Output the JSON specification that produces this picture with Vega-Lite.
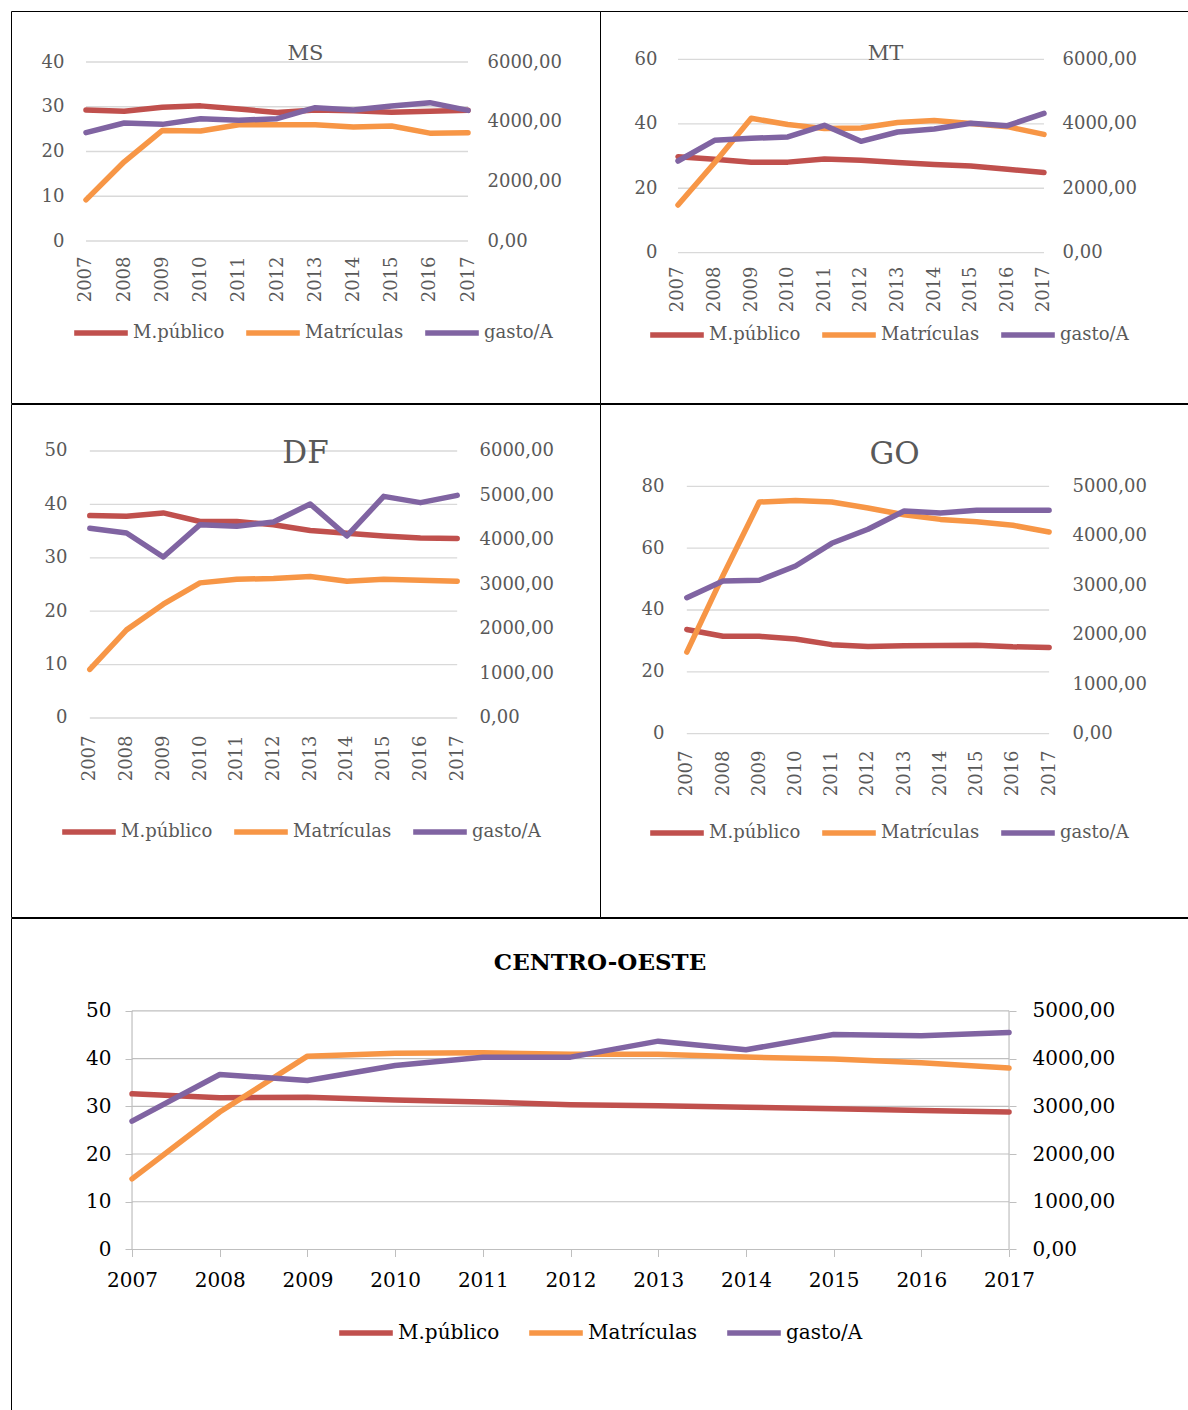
{
"$schema": "https://vega.github.io/schema/vega-lite/v6.json",
"padding": {"left": 10, "top": 10, "right": 0, "bottom": 0},
"background": "white",
"datasets": {
"d": [
{"panel":"MS","serie":"M.público","ano":2007,"valor":29.3},{"panel":"MS","serie":"M.público","ano":2008,"valor":29.0},{"panel":"MS","serie":"M.público","ano":2009,"valor":29.9},{"panel":"MS","serie":"M.público","ano":2010,"valor":30.2},{"panel":"MS","serie":"M.público","ano":2011,"valor":29.5},{"panel":"MS","serie":"M.público","ano":2012,"valor":28.7},{"panel":"MS","serie":"M.público","ano":2013,"valor":29.3},{"panel":"MS","serie":"M.público","ano":2014,"valor":29.1},{"panel":"MS","serie":"M.público","ano":2015,"valor":28.8},{"panel":"MS","serie":"M.público","ano":2016,"valor":29.0},{"panel":"MS","serie":"M.público","ano":2017,"valor":29.2},
{"panel":"MS","serie":"Matrículas","ano":2007,"valor":9.2},{"panel":"MS","serie":"Matrículas","ano":2008,"valor":17.7},{"panel":"MS","serie":"Matrículas","ano":2009,"valor":24.7},{"panel":"MS","serie":"Matrículas","ano":2010,"valor":24.6},{"panel":"MS","serie":"Matrículas","ano":2011,"valor":26.0},{"panel":"MS","serie":"Matrículas","ano":2012,"valor":26.0},{"panel":"MS","serie":"Matrículas","ano":2013,"valor":26.0},{"panel":"MS","serie":"Matrículas","ano":2014,"valor":25.5},{"panel":"MS","serie":"Matrículas","ano":2015,"valor":25.7},{"panel":"MS","serie":"Matrículas","ano":2016,"valor":24.1},{"panel":"MS","serie":"Matrículas","ano":2017,"valor":24.2},
{"panel":"MS","serie":"gasto/A","ano":2007,"valor":3631},{"panel":"MS","serie":"gasto/A","ano":2008,"valor":3955},{"panel":"MS","serie":"gasto/A","ano":2009,"valor":3910},{"panel":"MS","serie":"gasto/A","ano":2010,"valor":4100},{"panel":"MS","serie":"gasto/A","ano":2011,"valor":4044},{"panel":"MS","serie":"gasto/A","ano":2012,"valor":4100},{"panel":"MS","serie":"gasto/A","ano":2013,"valor":4469},{"panel":"MS","serie":"gasto/A","ano":2014,"valor":4391},{"panel":"MS","serie":"gasto/A","ano":2015,"valor":4525},{"panel":"MS","serie":"gasto/A","ano":2016,"valor":4637},{"panel":"MS","serie":"gasto/A","ano":2017,"valor":4380},
{"panel":"MT","serie":"M.público","ano":2007,"valor":29.8},{"panel":"MT","serie":"M.público","ano":2008,"valor":29.0},{"panel":"MT","serie":"M.público","ano":2009,"valor":28.1},{"panel":"MT","serie":"M.público","ano":2010,"valor":28.1},{"panel":"MT","serie":"M.público","ano":2011,"valor":29.1},{"panel":"MT","serie":"M.público","ano":2012,"valor":28.7},{"panel":"MT","serie":"M.público","ano":2013,"valor":28.0},{"panel":"MT","serie":"M.público","ano":2014,"valor":27.4},{"panel":"MT","serie":"M.público","ano":2015,"valor":26.9},{"panel":"MT","serie":"M.público","ano":2016,"valor":25.9},{"panel":"MT","serie":"M.público","ano":2017,"valor":24.9},
{"panel":"MT","serie":"Matrículas","ano":2007,"valor":14.8},{"panel":"MT","serie":"Matrículas","ano":2008,"valor":27.9},{"panel":"MT","serie":"Matrículas","ano":2009,"valor":41.7},{"panel":"MT","serie":"Matrículas","ano":2010,"valor":39.8},{"panel":"MT","serie":"Matrículas","ano":2011,"valor":38.5},{"panel":"MT","serie":"Matrículas","ano":2012,"valor":38.7},{"panel":"MT","serie":"Matrículas","ano":2013,"valor":40.4},{"panel":"MT","serie":"Matrículas","ano":2014,"valor":41.0},{"panel":"MT","serie":"Matrículas","ano":2015,"valor":40.1},{"panel":"MT","serie":"Matrículas","ano":2016,"valor":39.1},{"panel":"MT","serie":"Matrículas","ano":2017,"valor":36.7},
{"panel":"MT","serie":"gasto/A","ano":2007,"valor":2845},{"panel":"MT","serie":"gasto/A","ano":2008,"valor":3486},{"panel":"MT","serie":"gasto/A","ano":2009,"valor":3548},{"panel":"MT","serie":"gasto/A","ano":2010,"valor":3590},{"panel":"MT","serie":"gasto/A","ano":2011,"valor":3952},{"panel":"MT","serie":"gasto/A","ano":2012,"valor":3455},{"panel":"MT","serie":"gasto/A","ano":2013,"valor":3745},{"panel":"MT","serie":"gasto/A","ano":2014,"valor":3838},{"panel":"MT","serie":"gasto/A","ano":2015,"valor":4014},{"panel":"MT","serie":"gasto/A","ano":2016,"valor":3941},{"panel":"MT","serie":"gasto/A","ano":2017,"valor":4324},
{"panel":"DF","serie":"M.público","ano":2007,"valor":37.9},{"panel":"DF","serie":"M.público","ano":2008,"valor":37.8},{"panel":"DF","serie":"M.público","ano":2009,"valor":38.4},{"panel":"DF","serie":"M.público","ano":2010,"valor":36.8},{"panel":"DF","serie":"M.público","ano":2011,"valor":36.8},{"panel":"DF","serie":"M.público","ano":2012,"valor":36.2},{"panel":"DF","serie":"M.público","ano":2013,"valor":35.1},{"panel":"DF","serie":"M.público","ano":2014,"valor":34.6},{"panel":"DF","serie":"M.público","ano":2015,"valor":34.1},{"panel":"DF","serie":"M.público","ano":2016,"valor":33.7},{"panel":"DF","serie":"M.público","ano":2017,"valor":33.6},
{"panel":"DF","serie":"Matrículas","ano":2007,"valor":9.1},{"panel":"DF","serie":"Matrículas","ano":2008,"valor":16.5},{"panel":"DF","serie":"Matrículas","ano":2009,"valor":21.3},{"panel":"DF","serie":"Matrículas","ano":2010,"valor":25.3},{"panel":"DF","serie":"Matrículas","ano":2011,"valor":26.0},{"panel":"DF","serie":"Matrículas","ano":2012,"valor":26.1},{"panel":"DF","serie":"Matrículas","ano":2013,"valor":26.5},{"panel":"DF","serie":"Matrículas","ano":2014,"valor":25.6},{"panel":"DF","serie":"Matrículas","ano":2015,"valor":26.0},{"panel":"DF","serie":"Matrículas","ano":2016,"valor":25.8},{"panel":"DF","serie":"Matrículas","ano":2017,"valor":25.6},
{"panel":"DF","serie":"gasto/A","ano":2007,"valor":4262},{"panel":"DF","serie":"gasto/A","ano":2008,"valor":4157},{"panel":"DF","serie":"gasto/A","ano":2009,"valor":3618},{"panel":"DF","serie":"gasto/A","ano":2010,"valor":4344},{"panel":"DF","serie":"gasto/A","ano":2011,"valor":4307},{"panel":"DF","serie":"gasto/A","ano":2012,"valor":4404},{"panel":"DF","serie":"gasto/A","ano":2013,"valor":4809},{"panel":"DF","serie":"gasto/A","ano":2014,"valor":4090},{"panel":"DF","serie":"gasto/A","ano":2015,"valor":4981},{"panel":"DF","serie":"gasto/A","ano":2016,"valor":4839},{"panel":"DF","serie":"gasto/A","ano":2017,"valor":5003},
{"panel":"GO","serie":"M.público","ano":2007,"valor":33.7},{"panel":"GO","serie":"M.público","ano":2008,"valor":31.5},{"panel":"GO","serie":"M.público","ano":2009,"valor":31.5},{"panel":"GO","serie":"M.público","ano":2010,"valor":30.6},{"panel":"GO","serie":"M.público","ano":2011,"valor":28.8},{"panel":"GO","serie":"M.público","ano":2012,"valor":28.2},{"panel":"GO","serie":"M.público","ano":2013,"valor":28.4},{"panel":"GO","serie":"M.público","ano":2014,"valor":28.5},{"panel":"GO","serie":"M.público","ano":2015,"valor":28.6},{"panel":"GO","serie":"M.público","ano":2016,"valor":28.1},{"panel":"GO","serie":"M.público","ano":2017,"valor":27.9},
{"panel":"GO","serie":"Matrículas","ano":2007,"valor":26.4},{"panel":"GO","serie":"Matrículas","ano":2008,"valor":51.2},{"panel":"GO","serie":"Matrículas","ano":2009,"valor":74.9},{"panel":"GO","serie":"Matrículas","ano":2010,"valor":75.4},{"panel":"GO","serie":"Matrículas","ano":2011,"valor":74.9},{"panel":"GO","serie":"Matrículas","ano":2012,"valor":73.0},{"panel":"GO","serie":"Matrículas","ano":2013,"valor":70.8},{"panel":"GO","serie":"Matrículas","ano":2014,"valor":69.3},{"panel":"GO","serie":"Matrículas","ano":2015,"valor":68.5},{"panel":"GO","serie":"Matrículas","ano":2016,"valor":67.4},{"panel":"GO","serie":"Matrículas","ano":2017,"valor":65.2},
{"panel":"GO","serie":"gasto/A","ano":2007,"valor":2750},{"panel":"GO","serie":"gasto/A","ano":2008,"valor":3086},{"panel":"GO","serie":"gasto/A","ano":2009,"valor":3100},{"panel":"GO","serie":"gasto/A","ano":2010,"valor":3390},{"panel":"GO","serie":"gasto/A","ano":2011,"valor":3848},{"panel":"GO","serie":"gasto/A","ano":2012,"valor":4131},{"panel":"GO","serie":"gasto/A","ano":2013,"valor":4502},{"panel":"GO","serie":"gasto/A","ano":2014,"valor":4461},{"panel":"GO","serie":"gasto/A","ano":2015,"valor":4515},{"panel":"GO","serie":"gasto/A","ano":2016,"valor":4515},{"panel":"GO","serie":"gasto/A","ano":2017,"valor":4515},
{"panel":"CO","serie":"M.público","ano":2007,"valor":32.6},{"panel":"CO","serie":"M.público","ano":2008,"valor":31.8},{"panel":"CO","serie":"M.público","ano":2009,"valor":31.9},{"panel":"CO","serie":"M.público","ano":2010,"valor":31.3},{"panel":"CO","serie":"M.público","ano":2011,"valor":30.9},{"panel":"CO","serie":"M.público","ano":2012,"valor":30.3},{"panel":"CO","serie":"M.público","ano":2013,"valor":30.1},{"panel":"CO","serie":"M.público","ano":2014,"valor":29.8},{"panel":"CO","serie":"M.público","ano":2015,"valor":29.5},{"panel":"CO","serie":"M.público","ano":2016,"valor":29.1},{"panel":"CO","serie":"M.público","ano":2017,"valor":28.8},
{"panel":"CO","serie":"Matrículas","ano":2007,"valor":14.8},{"panel":"CO","serie":"Matrículas","ano":2008,"valor":28.8},{"panel":"CO","serie":"Matrículas","ano":2009,"valor":40.5},{"panel":"CO","serie":"Matrículas","ano":2010,"valor":41.1},{"panel":"CO","serie":"Matrículas","ano":2011,"valor":41.2},{"panel":"CO","serie":"Matrículas","ano":2012,"valor":40.9},{"panel":"CO","serie":"Matrículas","ano":2013,"valor":40.9},{"panel":"CO","serie":"Matrículas","ano":2014,"valor":40.3},{"panel":"CO","serie":"Matrículas","ano":2015,"valor":39.9},{"panel":"CO","serie":"Matrículas","ano":2016,"valor":39.1},{"panel":"CO","serie":"Matrículas","ano":2017,"valor":38.0},
{"panel":"CO","serie":"gasto/A","ano":2007,"valor":2688},{"panel":"CO","serie":"gasto/A","ano":2008,"valor":3666},{"panel":"CO","serie":"gasto/A","ano":2009,"valor":3540},{"panel":"CO","serie":"gasto/A","ano":2010,"valor":3855},{"panel":"CO","serie":"gasto/A","ano":2011,"valor":4029},{"panel":"CO","serie":"gasto/A","ano":2012,"valor":4029},{"panel":"CO","serie":"gasto/A","ano":2013,"valor":4364},{"panel":"CO","serie":"gasto/A","ano":2014,"valor":4183},{"panel":"CO","serie":"gasto/A","ano":2015,"valor":4504},{"panel":"CO","serie":"gasto/A","ano":2016,"valor":4476},{"panel":"CO","serie":"gasto/A","ano":2017,"valor":4546}
],
"grid": [
{"panel":"MS","valor":0},{"panel":"MS","valor":10},{"panel":"MS","valor":20},{"panel":"MS","valor":30},{"panel":"MS","valor":40},
{"panel":"MT","valor":0},{"panel":"MT","valor":20},{"panel":"MT","valor":40},{"panel":"MT","valor":60},
{"panel":"DF","valor":0},{"panel":"DF","valor":10},{"panel":"DF","valor":20},{"panel":"DF","valor":30},{"panel":"DF","valor":40},{"panel":"DF","valor":50},
{"panel":"GO","valor":0},{"panel":"GO","valor":20},{"panel":"GO","valor":40},{"panel":"GO","valor":60},{"panel":"GO","valor":80},
{"panel":"CO","valor":0},{"panel":"CO","valor":10},{"panel":"CO","valor":20},{"panel":"CO","valor":30},{"panel":"CO","valor":40},{"panel":"CO","valor":50}
],
"frame": [{"panel":"CO","ano":2007},{"panel":"CO","ano":2017}]
},
"spacing": -1,
"resolve": {"scale": {"color": "independent"}, "legend": {"color": "independent"}},
"vconcat": [
{
"spacing": 0, "bounds": "flush",
"resolve": {"scale": {"color": "independent"}, "legend": {"color": "independent"}},
"hconcat": [
{
"width": 589, "height": 392,
"title": {"text": "MS", "offset": -53, "fontSize": 21},
"layer": [
{"layer": [
{"data": {"name": "grid"}, "transform": [{"filter": "datum.panel === 'MS'"}],
"mark": {"type": "rule", "color": "#d9d9d9", "strokeWidth": 1.3},
"encoding": {
"x": {"datum": 2007, "type": "quantitative", "scale": {"domain": [2005.037, 2020.455], "nice": false, "zero": false}, "axis": {"values": [2007,2008,2009,2010,2011,2012,2013,2014,2015,2016,2017], "format": "d", "title": null, "offset": -147, "labelAngle": -90}},
"x2": {"datum": 2017},
"y": {"field": "valor", "type": "quantitative", "scale": {"domain": [-36.20, 51.40], "nice": false, "zero": false}, "axis": {"values": [0,10,20,30,40], "format": "d", "title": null, "offset": -53}}
}},
{"data": {"name": "d"}, "transform": [{"filter": "datum.panel === 'MS' && datum.serie !== 'gasto/A'"}],
"mark": {"type": "line", "strokeWidth": 5.5, "strokeCap": "round", "strokeJoin": "round"},
"encoding": {
"x": {"field": "ano", "type": "quantitative", "scale": {"domain": [2005.037, 2020.455], "nice": false, "zero": false}, "axis": {"values": [2007,2008,2009,2010,2011,2012,2013,2014,2015,2016,2017], "format": "d", "title": null, "offset": -147, "labelAngle": -90}},
"y": {"field": "valor", "type": "quantitative", "scale": {"domain": [-36.20, 51.40], "nice": false, "zero": false}, "axis": {"values": [0,10,20,30,40], "format": "d", "title": null, "offset": -53}},
"color": {"field": "serie", "type": "nominal", "scale": {"domain": ["M.público","Matrículas","gasto/A"], "range": ["#C0504D","#F79646","#8064A2"]}, "legend": {"orient": "none", "legendX": 60, "legendY": 292, "direction": "horizontal", "title": null}}
}}
]},
{"data": {"name": "d"}, "transform": [{"filter": "datum.panel === 'MS' && datum.serie === 'gasto/A'"}],
"mark": {"type": "line", "strokeWidth": 5.5, "strokeCap": "round", "strokeJoin": "round"},
"encoding": {
"x": {"field": "ano", "type": "quantitative", "scale": {"domain": [2005.037, 2020.455], "nice": false, "zero": false}, "axis": {"values": [2007,2008,2009,2010,2011,2012,2013,2014,2015,2016,2017], "format": "d", "title": null, "offset": -147, "labelAngle": -90}},
"y": {"field": "valor", "type": "quantitative", "scale": {"domain": [-5430, 7710], "nice": false, "zero": false}, "axis": {"orient": "right", "values": [0,2000,4000,6000], "labelExpr": "replace(format(datum.value, '.2f'), '.', ',')", "title": null, "offset": -113}},
"color": {"field": "serie", "type": "nominal", "scale": {"domain": ["M.público","Matrículas","gasto/A"], "range": ["#C0504D","#F79646","#8064A2"]}, "legend": {"orient": "none", "legendX": 60, "legendY": 292, "direction": "horizontal", "title": null}}
}}
],
"resolve": {"scale": {"y": "independent"}}
},
{
"width": 589, "height": 392,
"title": {"text": "MT", "offset": -53, "fontSize": 21, "dx": -9},
"layer": [
{"layer": [
{"data": {"name": "grid"}, "transform": [{"filter": "datum.panel === 'MT'"}],
"mark": {"type": "rule", "color": "#d9d9d9", "strokeWidth": 1.3},
"encoding": {
"x": {"datum": 2007, "type": "quantitative", "scale": {"domain": [2004.869, 2020.962], "nice": false, "zero": false}, "axis": {"values": [2007,2008,2009,2010,2011,2012,2013,2014,2015,2016,2017], "format": "d", "title": null, "offset": -137, "labelAngle": -90}},
"x2": {"datum": 2017},
"y": {"field": "valor", "type": "quantitative", "scale": {"domain": [-46.63, 74.99], "nice": false, "zero": false}, "axis": {"values": [0,20,40,60], "format": "d", "title": null, "offset": -57}}
}},
{"data": {"name": "d"}, "transform": [{"filter": "datum.panel === 'MT' && datum.serie !== 'gasto/A'"}],
"mark": {"type": "line", "strokeWidth": 5.5, "strokeCap": "round", "strokeJoin": "round"},
"encoding": {
"x": {"field": "ano", "type": "quantitative", "scale": {"domain": [2004.869, 2020.962], "nice": false, "zero": false}, "axis": {"values": [2007,2008,2009,2010,2011,2012,2013,2014,2015,2016,2017], "format": "d", "title": null, "offset": -137, "labelAngle": -90}},
"y": {"field": "valor", "type": "quantitative", "scale": {"domain": [-46.63, 74.99], "nice": false, "zero": false}, "axis": {"values": [0,20,40,60], "format": "d", "title": null, "offset": -57}},
"color": {"field": "serie", "type": "nominal", "scale": {"domain": ["M.público","Matrículas","gasto/A"], "range": ["#C0504D","#F79646","#8064A2"]}, "legend": {"orient": "none", "legendX": 47, "legendY": 294, "direction": "horizontal", "title": null}}
}}
]},
{"data": {"name": "d"}, "transform": [{"filter": "datum.panel === 'MT' && datum.serie === 'gasto/A'"}],
"mark": {"type": "line", "strokeWidth": 5.5, "strokeCap": "round", "strokeJoin": "round"},
"encoding": {
"x": {"field": "ano", "type": "quantitative", "scale": {"domain": [2004.869, 2020.962], "nice": false, "zero": false}, "axis": {"values": [2007,2008,2009,2010,2011,2012,2013,2014,2015,2016,2017], "format": "d", "title": null, "offset": -137, "labelAngle": -90}},
"y": {"field": "valor", "type": "quantitative", "scale": {"domain": [-4663, 7499], "nice": false, "zero": false}, "axis": {"orient": "right", "values": [0,2000,4000,6000], "labelExpr": "replace(format(datum.value, '.2f'), '.', ',')", "title": null, "offset": -127}},
"color": {"field": "serie", "type": "nominal", "scale": {"domain": ["M.público","Matrículas","gasto/A"], "range": ["#C0504D","#F79646","#8064A2"]}, "legend": {"orient": "none", "legendX": 47, "legendY": 294, "direction": "horizontal", "title": null}}
}}
],
"resolve": {"scale": {"y": "independent"}}
}
]
},
{
"spacing": 0, "bounds": "flush",
"resolve": {"scale": {"color": "independent"}, "legend": {"color": "independent"}},
"hconcat": [
{
"width": 589, "height": 513,
"title": {"text": "DF", "offset": -66, "fontSize": 31},
"layer": [
{"layer": [
{"data": {"name": "grid"}, "transform": [{"filter": "datum.panel === 'DF'"}],
"mark": {"type": "rule", "color": "#d9d9d9", "strokeWidth": 1.3},
"encoding": {
"x": {"datum": 2007, "type": "quantitative", "scale": {"domain": [2004.855, 2020.887], "nice": false, "zero": false}, "axis": {"values": [2007,2008,2009,2010,2011,2012,2013,2014,2015,2016,2017], "format": "d", "title": null, "offset": -182, "labelAngle": -90}},
"x2": {"datum": 2017},
"y": {"field": "valor", "type": "quantitative", "scale": {"domain": [-37.27, 58.80], "nice": false, "zero": false}, "axis": {"values": [0,10,20,30,40,50], "format": "d", "title": null, "offset": -56}}
}},
{"data": {"name": "d"}, "transform": [{"filter": "datum.panel === 'DF' && datum.serie !== 'gasto/A'"}],
"mark": {"type": "line", "strokeWidth": 5.5, "strokeCap": "round", "strokeJoin": "round"},
"encoding": {
"x": {"field": "ano", "type": "quantitative", "scale": {"domain": [2004.855, 2020.887], "nice": false, "zero": false}, "axis": {"values": [2007,2008,2009,2010,2011,2012,2013,2014,2015,2016,2017], "format": "d", "title": null, "offset": -182, "labelAngle": -90}},
"y": {"field": "valor", "type": "quantitative", "scale": {"domain": [-37.27, 58.80], "nice": false, "zero": false}, "axis": {"values": [0,10,20,30,40,50], "format": "d", "title": null, "offset": -56}},
"color": {"field": "serie", "type": "nominal", "scale": {"domain": ["M.público","Matrículas","gasto/A"], "range": ["#C0504D","#F79646","#8064A2"]}, "legend": {"orient": "none", "legendX": 48, "legendY": 398, "direction": "horizontal", "title": null}}
}}
]},
{"data": {"name": "d"}, "transform": [{"filter": "datum.panel === 'DF' && datum.serie === 'gasto/A'"}],
"mark": {"type": "line", "strokeWidth": 5.5, "strokeCap": "round", "strokeJoin": "round"},
"encoding": {
"x": {"field": "ano", "type": "quantitative", "scale": {"domain": [2004.855, 2020.887], "nice": false, "zero": false}, "axis": {"values": [2007,2008,2009,2010,2011,2012,2013,2014,2015,2016,2017], "format": "d", "title": null, "offset": -182, "labelAngle": -90}},
"y": {"field": "valor", "type": "quantitative", "scale": {"domain": [-4472, 7056], "nice": false, "zero": false}, "axis": {"orient": "right", "values": [0,1000,2000,3000,4000,5000,6000], "labelExpr": "replace(format(datum.value, '.2f'), '.', ',')", "title": null, "offset": -121}},
"color": {"field": "serie", "type": "nominal", "scale": {"domain": ["M.público","Matrículas","gasto/A"], "range": ["#C0504D","#F79646","#8064A2"]}, "legend": {"orient": "none", "legendX": 48, "legendY": 398, "direction": "horizontal", "title": null}}
}}
],
"resolve": {"scale": {"y": "independent"}}
},
{
"width": 589, "height": 513,
"title": {"text": "GO", "offset": -67, "fontSize": 31},
"layer": [
{"layer": [
{"data": {"name": "grid"}, "transform": [{"filter": "datum.panel === 'GO'"}],
"mark": {"type": "rule", "color": "#d9d9d9", "strokeWidth": 1.3},
"encoding": {
"x": {"datum": 2007, "type": "quantitative", "scale": {"domain": [2004.604, 2020.861], "nice": false, "zero": false}, "axis": {"values": [2007,2008,2009,2010,2011,2012,2013,2014,2015,2016,2017], "format": "d", "title": null, "offset": -167, "labelAngle": -90}},
"x2": {"datum": 2017},
"y": {"field": "valor", "type": "quantitative", "scale": {"domain": [-59.27, 106.61], "nice": false, "zero": false}, "axis": {"values": [0,20,40,60,80], "format": "d", "title": null, "offset": -64}}
}},
{"data": {"name": "d"}, "transform": [{"filter": "datum.panel === 'GO' && datum.serie !== 'gasto/A'"}],
"mark": {"type": "line", "strokeWidth": 5.5, "strokeCap": "round", "strokeJoin": "round"},
"encoding": {
"x": {"field": "ano", "type": "quantitative", "scale": {"domain": [2004.604, 2020.861], "nice": false, "zero": false}, "axis": {"values": [2007,2008,2009,2010,2011,2012,2013,2014,2015,2016,2017], "format": "d", "title": null, "offset": -167, "labelAngle": -90}},
"y": {"field": "valor", "type": "quantitative", "scale": {"domain": [-59.27, 106.61], "nice": false, "zero": false}, "axis": {"values": [0,20,40,60,80], "format": "d", "title": null, "offset": -64}},
"color": {"field": "serie", "type": "nominal", "scale": {"domain": ["M.público","Matrículas","gasto/A"], "range": ["#C0504D","#F79646","#8064A2"]}, "legend": {"orient": "none", "legendX": 47, "legendY": 399, "direction": "horizontal", "title": null}}
}}
]},
{"data": {"name": "d"}, "transform": [{"filter": "datum.panel === 'GO' && datum.serie === 'gasto/A'"}],
"mark": {"type": "line", "strokeWidth": 5.5, "strokeCap": "round", "strokeJoin": "round"},
"encoding": {
"x": {"field": "ano", "type": "quantitative", "scale": {"domain": [2004.604, 2020.861], "nice": false, "zero": false}, "axis": {"values": [2007,2008,2009,2010,2011,2012,2013,2014,2015,2016,2017], "format": "d", "title": null, "offset": -167, "labelAngle": -90}},
"y": {"field": "valor", "type": "quantitative", "scale": {"domain": [-3704, 6663], "nice": false, "zero": false}, "axis": {"orient": "right", "values": [0,1000,2000,3000,4000,5000], "labelExpr": "replace(format(datum.value, '.2f'), '.', ',')", "title": null, "offset": -117}},
"color": {"field": "serie", "type": "nominal", "scale": {"domain": ["M.público","Matrículas","gasto/A"], "range": ["#C0504D","#F79646","#8064A2"]}, "legend": {"orient": "none", "legendX": 47, "legendY": 399, "direction": "horizontal", "title": null}}
}}
],
"resolve": {"scale": {"y": "independent"}}
}
]
},
{
"width": 1178, "height": 497,
"title": {"text": "CENTRO-OESTE", "offset": -57, "fontSize": 23, "fontWeight": "bold", "color": "#000000"},
"layer": [
{"layer": [
{"data": {"name": "grid"}, "transform": [{"filter": "datum.panel === 'CO'"}],
"mark": {"type": "rule", "color": "#bfbfbf", "strokeWidth": 1.2},
"encoding": {
"x": {"datum": 2007, "type": "quantitative", "scale": {"domain": [2005.620, 2019.052], "nice": false, "zero": false}, "axis": {"values": [2007,2008,2009,2010,2011,2012,2013,2014,2015,2016,2017], "format": "d", "title": null, "offset": -165.5, "labelAngle": 0, "ticks": true, "tickSize": 7, "tickColor": "#bfbfbf", "labelPadding": 13.5, "labelFontSize": 20, "labelColor": "#000000"}},
"x2": {"datum": 2017},
"y": {"field": "valor", "type": "quantitative", "scale": {"domain": [-34.67, 69.44], "nice": false, "zero": false}, "axis": {"values": [0,10,20,30,40,50], "format": "d", "title": null, "offset": -121, "ticks": true, "tickSize": 7, "tickColor": "#bfbfbf", "labelPadding": 14, "labelFontSize": 20, "labelColor": "#000000"}}
}},
{"data": {"name": "frame"},
"mark": {"type": "rule", "color": "#bfbfbf", "strokeWidth": 1.2},
"encoding": {
"x": {"field": "ano", "type": "quantitative", "scale": {"domain": [2005.620, 2019.052], "nice": false, "zero": false}, "axis": {"values": [2007,2008,2009,2010,2011,2012,2013,2014,2015,2016,2017], "format": "d", "title": null, "offset": -165.5, "labelAngle": 0, "ticks": true, "tickSize": 7, "tickColor": "#bfbfbf", "labelPadding": 13.5, "labelFontSize": 20, "labelColor": "#000000"}},
"y": {"datum": 0, "type": "quantitative", "scale": {"domain": [-34.67, 69.44], "nice": false, "zero": false}, "axis": {"values": [0,10,20,30,40,50], "format": "d", "title": null, "offset": -121, "ticks": true, "tickSize": 7, "tickColor": "#bfbfbf", "labelPadding": 14, "labelFontSize": 20, "labelColor": "#000000"}},
"y2": {"datum": 50}
}},
{"data": {"name": "d"}, "transform": [{"filter": "datum.panel === 'CO' && datum.serie !== 'gasto/A'"}],
"mark": {"type": "line", "strokeWidth": 5.5, "strokeCap": "round", "strokeJoin": "round"},
"encoding": {
"x": {"field": "ano", "type": "quantitative", "scale": {"domain": [2005.620, 2019.052], "nice": false, "zero": false}, "axis": {"values": [2007,2008,2009,2010,2011,2012,2013,2014,2015,2016,2017], "format": "d", "title": null, "offset": -165.5, "labelAngle": 0, "ticks": true, "tickSize": 7, "tickColor": "#bfbfbf", "labelPadding": 13.5, "labelFontSize": 20, "labelColor": "#000000"}},
"y": {"field": "valor", "type": "quantitative", "scale": {"domain": [-34.67, 69.44], "nice": false, "zero": false}, "axis": {"values": [0,10,20,30,40,50], "format": "d", "title": null, "offset": -121, "ticks": true, "tickSize": 7, "tickColor": "#bfbfbf", "labelPadding": 14, "labelFontSize": 20, "labelColor": "#000000"}},
"color": {"field": "serie", "type": "nominal", "scale": {"domain": ["M.público","Matrículas","gasto/A"], "range": ["#C0504D","#F79646","#8064A2"]}, "legend": {"orient": "none", "legendX": 325, "legendY": 385, "direction": "horizontal", "title": null, "labelFontSize": 20, "labelColor": "#000000", "columnPadding": 18}}
}}
]},
{"data": {"name": "d"}, "transform": [{"filter": "datum.panel === 'CO' && datum.serie === 'gasto/A'"}],
"mark": {"type": "line", "strokeWidth": 5.5, "strokeCap": "round", "strokeJoin": "round"},
"encoding": {
"x": {"field": "ano", "type": "quantitative", "scale": {"domain": [2005.620, 2019.052], "nice": false, "zero": false}, "axis": {"values": [2007,2008,2009,2010,2011,2012,2013,2014,2015,2016,2017], "format": "d", "title": null, "offset": -165.5, "labelAngle": 0, "ticks": true, "tickSize": 7, "tickColor": "#bfbfbf", "labelPadding": 13.5, "labelFontSize": 20, "labelColor": "#000000"}},
"y": {"field": "valor", "type": "quantitative", "scale": {"domain": [-3467, 6944], "nice": false, "zero": false}, "axis": {"orient": "right", "values": [0,1000,2000,3000,4000,5000], "labelExpr": "replace(format(datum.value, '.2f'), '.', ',')", "title": null, "offset": -180, "ticks": true, "tickSize": 7, "tickColor": "#bfbfbf", "labelPadding": 16, "labelFontSize": 20, "labelColor": "#000000"}},
"color": {"field": "serie", "type": "nominal", "scale": {"domain": ["M.público","Matrículas","gasto/A"], "range": ["#C0504D","#F79646","#8064A2"]}, "legend": {"orient": "none", "legendX": 325, "legendY": 385, "direction": "horizontal", "title": null, "labelFontSize": 20, "labelColor": "#000000", "columnPadding": 18}}
}}
],
"resolve": {"scale": {"y": "independent"}}
}
],
"config": {
"view": {"stroke": "#000000", "strokeWidth": 1},
"font": "DejaVu Serif",
"axis": {"grid": false, "domain": false, "ticks": false, "tickSize": 0, "labelFont": "DejaVu Serif", "labelFontSize": 18, "labelColor": "#595959", "labelPadding": 0, "labelFlush": false, "labelOverlap": false, "labelBound": false},
"title": {"font": "DejaVu Serif", "color": "#595959", "fontWeight": "normal", "anchor": "middle", "frame": "group"},
"legend": {"symbolType": "stroke", "symbolSize": 2873, "symbolStrokeWidth": 5.5, "labelFont": "DejaVu Serif", "labelFontSize": 18, "labelColor": "#595959", "labelOffset": 2, "columnPadding": 10, "padding": 0}
}
}
